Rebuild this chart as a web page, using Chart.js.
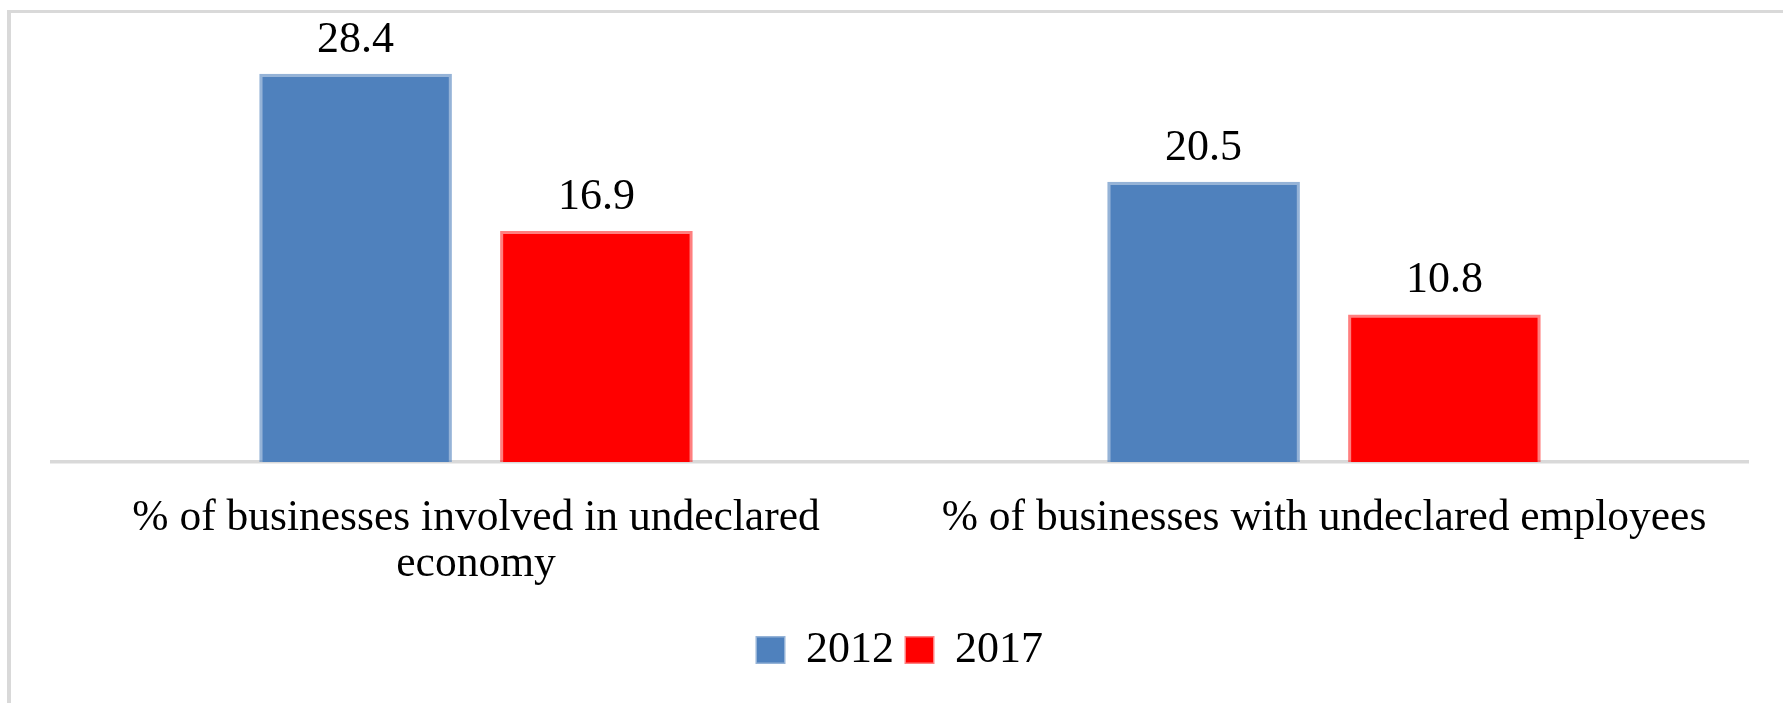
<!DOCTYPE html>
<html>
<head>
<meta charset="utf-8">
<script src="https://cdn.jsdelivr.net/npm/chart.js@4/dist/chart.umd.min.js"></script>
<style>
  html, body { margin: 0; padding: 0; background: #fff; overflow: hidden; }
  #frame {
    position: absolute; left: 7px; top: 10px; width: 2000px; height: 1000px;
    border-left: 4px solid #d9d9d9; border-top: 3px solid #d9d9d9;
  }
  #wrap { position: absolute; left: 0; top: 0; width: 1783px; height: 703px; }
</style>
</head>
<body>
<div id="frame"></div>
<div id="wrap"><canvas id="chart"></canvas></div>
<script>
const categories = [
  ["% of businesses involved in undeclared", "economy"],
  "% of businesses with undeclared employees"
];
const seriesNames = ["2012", "2017"];
const values2012 = [28.4, 20.5];
const values2017 = [16.9, 10.8];

const FONT = "'Liberation Serif', 'Times New Roman', serif";

// value printed above each bar
const valueLabels = {
  id: "valueLabels",
  afterDatasetsDraw(chart) {
    const ctx = chart.ctx;
    ctx.save();
    ctx.font = "44px " + FONT;
    ctx.fillStyle = "#000";
    ctx.textAlign = "center";
    ctx.textBaseline = "alphabetic";
    chart.data.datasets.forEach((ds, i) => {
      chart.getDatasetMeta(i).data.forEach((bar, j) => {
        ctx.fillText(ds.data[j].toFixed(1), bar.x, bar.y - 22);
      });
    });
    ctx.restore();
  }
};

new Chart(document.getElementById("chart"), {
  type: "bar",
  data: {
    labels: categories,
    datasets: [
      {
        label: seriesNames[0],
        data: values2012,
        backgroundColor: "#4f81bd",
        borderColor: "rgba(79, 129, 189, 0.6)",
        borderWidth: 3,
      },
      {
        label: seriesNames[1],
        data: values2017,
        backgroundColor: "#ff0000",
        borderColor: "rgba(255, 0, 0, 0.5)",
        borderWidth: 3,
      },
    ],
  },
  options: {
    responsive: true,
    maintainAspectRatio: false,
    animation: false,
    layout: { padding: { left: 52, right: 35, top: 52, bottom: 21 } },
    datasets: { bar: { categoryPercentage: 0.568, barPercentage: 0.8 } },
    plugins: {
      legend: {
        position: "bottom",
        labels: {
          font: { family: FONT, size: 44 },
          color: "#000",
          boxWidth: 27,
          boxHeight: 25,
          padding: 12,
        },
      },
      tooltip: { enabled: false },
    },
    scales: {
      x: {
        z: 1,
        grid: { display: false, drawTicks: false },
        border: { display: true, color: "#d9d9d9", width: 3.5 },
        ticks: {
          font: { family: FONT, size: 43.5, lineHeight: 1.05 },
          color: "#000",
          padding: 34,
          maxRotation: 0,
          autoSkip: false,
        },
        afterFit(scale) { scale.height = 154; },
      },
      y: {
        display: false,
        min: 0,
        max: 30,
      },
    },
  },
  plugins: [valueLabels],
});
</script>
</body>
</html>
